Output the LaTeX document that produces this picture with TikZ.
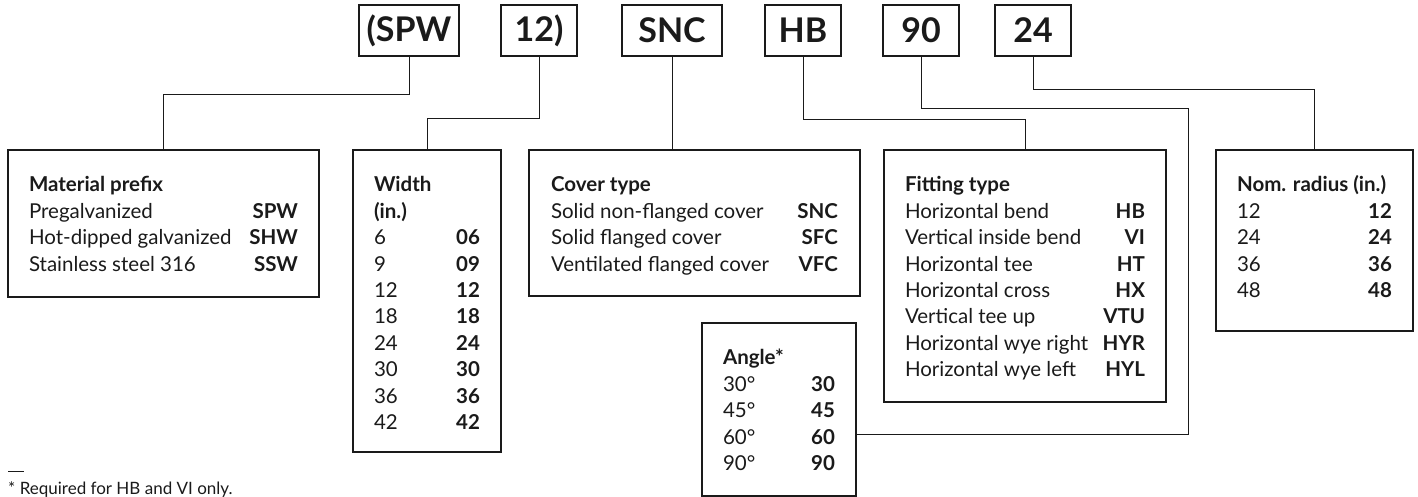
\documentclass[tikz,border=0pt]{standalone}
\usepackage{fontspec}
\setmainfont{Lato}
\usepackage{xcolor}
\usepackage{tikz}

\definecolor{inkgray}{HTML}{1A1A1A}

\newcommand{\legendrows}[3]{%
    \parbox[t][\dimexpr#2pt-47pt\relax][t]{\dimexpr#1pt-42pt\relax}{%
        \fontsize{20.5}{26.4}\selectfont\strut#3}}

\tikzset{
    codebox/.style={
        draw=inkgray,
        line width=1.3pt,
        minimum height=51pt,
        inner sep=0pt,
        text=inkgray,
        font=\fontsize{34}{36}\selectfont\bfseries
    },
    legendbox/.style={
        draw=inkgray,
        line width=1.3pt,
        anchor=north west,
        outer sep=0pt,
        inner xsep=21pt,
        inner ysep=23.5pt,
        text=inkgray
    },
    link/.style={
        draw=inkgray,
        line width=1pt
    },
    notetext/.style={
        anchor=base west,
        inner sep=0pt,
        text=inkgray,
        font=\fontsize{17}{21}\selectfont
    }
}

\begin{document}
\begin{tikzpicture}[x=1pt,y=-1pt]
    \useasboundingbox (0,0) rectangle (1418,497);

    \node[codebox, minimum width=100pt] (spw) at (409,30.5) {(SPW};
    \node[codebox, minimum width=76pt] (w12) at (539,30.5) {12)};
    \node[codebox, minimum width=100pt] (snc) at (672,30.5) {SNC};
    \node[codebox, minimum width=76pt] (hb) at (803,30.5) {HB};
    \node[codebox, minimum width=76pt] (a90) at (921,30.5) {90};
    \node[codebox, minimum width=76pt] (r24) at (1033,30.5) {24};

    \node[legendbox] (material) at (8,150) {\legendrows{311}{147}{%
        \textbf{Material prefix}\\
        Pregalvanized\hfill\textbf{SPW}\\
        Hot-dipped galvanized\hfill\textbf{SHW}\\
        Stainless steel 316\hfill\textbf{SSW}}};

    \node[legendbox] (width) at (353,150) {\legendrows{148}{302}{%
        \textbf{Width}\\
        \textbf{(in.)}\\
        6\hfill\textbf{06}\\
        9\hfill\textbf{09}\\
        12\hfill\textbf{12}\\
        18\hfill\textbf{18}\\
        24\hfill\textbf{24}\\
        30\hfill\textbf{30}\\
        36\hfill\textbf{36}\\
        42\hfill\textbf{42}}};

    \node[legendbox, inner xsep=22pt] (cover) at (529,150) {\legendrows{329}{146}{%
        \textbf{Cover type}\\
        Solid non-flanged cover\hfill\textbf{SNC}\\
        Solid flanged cover\hfill\textbf{SFC}\\
        Ventilated flanged cover\hfill\textbf{VFC}}};

    \node[legendbox] (angle) at (702,323) {\legendrows{154}{173}{%
        \textbf{Angle*}\\
        30°\hfill\textbf{30}\\
        45°\hfill\textbf{45}\\
        60°\hfill\textbf{60}\\
        90°\hfill\textbf{90}}};

    \node[legendbox] (fitting) at (884,150) {\legendrows{282}{252}{%
        \textbf{Fitting type}\\
        Horizontal bend\hfill\textbf{HB}\\
        Vertical inside bend\hfill\textbf{VI}\\
        Horizontal tee\hfill\textbf{HT}\\
        Horizontal cross\hfill\textbf{HX}\\
        Vertical tee up\hfill\textbf{VTU}\\
        Horizontal wye right\hfill\textbf{HYR}\\
        Horizontal wye left\hfill\textbf{HYL}}};

    \node[legendbox] (radius) at (1216,150) {\legendrows{197}{181}{%
        \textbf{Nom. radius (in.)}\\
        12\hfill\textbf{12}\\
        24\hfill\textbf{24}\\
        36\hfill\textbf{36}\\
        48\hfill\textbf{48}}};

    \coordinate (bend90) at (1188,434);

    \draw[link] (spw.south) -- ++(0,38) -| (material.north);
    \draw[link] (w12.south) -- ++(0,62) -| (width.north);
    \draw[link] (snc.south) -- (snc.south |- cover.north);
    \draw[link] (hb.south) -- ++(0,63) -| (fitting.north);
    \draw[link] (a90.south) -- ++(0,52) -| (bend90) -- (bend90 -| angle.east);
    \draw[link] (r24.south) -- ++(0,33) -| (radius.north);

    \node[notetext] (dash) at (8,476) {\rule[4pt]{16pt}{1.2pt}};
    \node[notetext] (note) at (8,494) {* Required for HB and VI only.};
\end{tikzpicture}
\end{document}
